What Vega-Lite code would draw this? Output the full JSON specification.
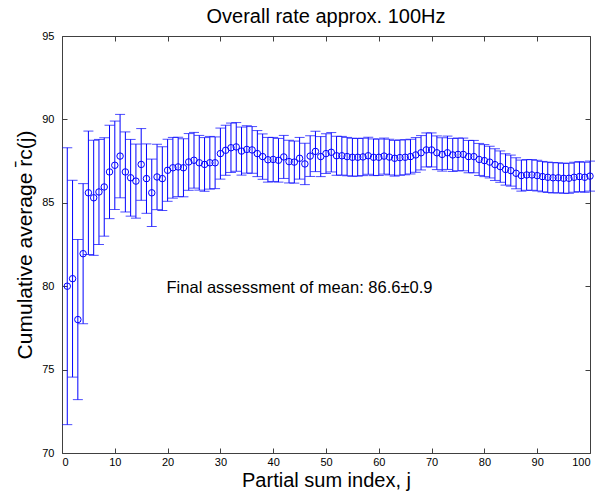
{
  "$schema": "https://vega.github.io/schema/vega-lite/v6.json",
  "width": 528,
  "height": 417,
  "autosize": {"type": "none"},
  "padding": {"left": 62, "top": 36, "right": 21, "bottom": 42},
  "background": "white",
  "config": {
    "font": "Liberation Sans",
    "view": {"stroke": "#404040", "strokeWidth": 1},
    "axis": {"grid": false, "domain": false, "labelColor": "#000000", "labelFontSize": 11, "tickColor": "#404040", "titleColor": "#000000", "titleFontWeight": "normal", "titleFontSize": 20}
  },
  "title": {"text": "Overall rate approx. 100Hz", "fontSize": 20, "fontWeight": "normal", "color": "#000000", "offset": 3},
  "data": {"values": [
    {"j":1,"m":80.0,"lo":71.7,"hi":88.3},
    {"j":2,"m":80.45,"lo":74.55,"hi":86.35},
    {"j":3,"m":78.0,"lo":73.2,"hi":82.8},
    {"j":4,"m":81.95,"lo":77.75,"hi":86.15},
    {"j":5,"m":85.6,"lo":81.9,"hi":89.3},
    {"j":6,"m":85.3,"lo":81.85,"hi":88.75},
    {"j":7,"m":85.65,"lo":82.5,"hi":88.8},
    {"j":8,"m":85.95,"lo":83.0,"hi":88.9},
    {"j":9,"m":86.85,"lo":84.05,"hi":89.65},
    {"j":10,"m":87.25,"lo":84.6,"hi":89.9},
    {"j":11,"m":87.8,"lo":85.3,"hi":90.3},
    {"j":12,"m":86.85,"lo":84.45,"hi":89.25},
    {"j":13,"m":86.5,"lo":84.2,"hi":88.8},
    {"j":14,"m":86.3,"lo":84.08,"hi":88.52},
    {"j":15,"m":87.3,"lo":85.15,"hi":89.45},
    {"j":16,"m":86.45,"lo":84.37,"hi":88.53},
    {"j":17,"m":85.6,"lo":83.58,"hi":87.62},
    {"j":18,"m":86.55,"lo":84.59,"hi":88.51},
    {"j":19,"m":86.45,"lo":84.54,"hi":88.36},
    {"j":20,"m":86.95,"lo":85.09,"hi":88.81},
    {"j":21,"m":87.1,"lo":85.28,"hi":88.92},
    {"j":22,"m":87.15,"lo":85.37,"hi":88.93},
    {"j":23,"m":87.1,"lo":85.36,"hi":88.84},
    {"j":24,"m":87.45,"lo":85.75,"hi":89.15},
    {"j":25,"m":87.55,"lo":85.88,"hi":89.22},
    {"j":26,"m":87.4,"lo":85.76,"hi":89.04},
    {"j":27,"m":87.3,"lo":85.69,"hi":88.91},
    {"j":28,"m":87.4,"lo":85.82,"hi":88.98},
    {"j":29,"m":87.4,"lo":85.85,"hi":88.95},
    {"j":30,"m":87.95,"lo":86.42,"hi":89.48},
    {"j":31,"m":88.15,"lo":86.65,"hi":89.65},
    {"j":32,"m":88.3,"lo":86.82,"hi":89.78},
    {"j":33,"m":88.35,"lo":86.89,"hi":89.81},
    {"j":34,"m":88.1,"lo":86.66,"hi":89.54},
    {"j":35,"m":88.2,"lo":86.78,"hi":89.62},
    {"j":36,"m":88.17,"lo":86.77,"hi":89.57},
    {"j":37,"m":87.95,"lo":86.57,"hi":89.33},
    {"j":38,"m":87.77,"lo":86.41,"hi":89.13},
    {"j":39,"m":87.58,"lo":86.24,"hi":88.92},
    {"j":40,"m":87.6,"lo":86.28,"hi":88.92},
    {"j":41,"m":87.55,"lo":86.24,"hi":88.86},
    {"j":42,"m":87.75,"lo":86.46,"hi":89.04},
    {"j":43,"m":87.47,"lo":86.19,"hi":88.75},
    {"j":44,"m":87.44,"lo":86.18,"hi":88.7},
    {"j":45,"m":87.67,"lo":86.42,"hi":88.92},
    {"j":46,"m":87.33,"lo":86.09,"hi":88.57},
    {"j":47,"m":87.8,"lo":86.58,"hi":89.02},
    {"j":48,"m":88.08,"lo":86.87,"hi":89.29},
    {"j":49,"m":87.77,"lo":86.57,"hi":88.97},
    {"j":50,"m":87.95,"lo":86.76,"hi":89.14},
    {"j":51,"m":88.03,"lo":86.85,"hi":89.21},
    {"j":52,"m":87.82,"lo":86.65,"hi":88.99},
    {"j":53,"m":87.82,"lo":86.66,"hi":88.98},
    {"j":54,"m":87.77,"lo":86.62,"hi":88.92},
    {"j":55,"m":87.73,"lo":86.59,"hi":88.87},
    {"j":56,"m":87.73,"lo":86.6,"hi":88.86},
    {"j":57,"m":87.75,"lo":86.63,"hi":88.87},
    {"j":58,"m":87.82,"lo":86.71,"hi":88.93},
    {"j":59,"m":87.73,"lo":86.63,"hi":88.83},
    {"j":60,"m":87.73,"lo":86.64,"hi":88.82},
    {"j":61,"m":87.8,"lo":86.72,"hi":88.88},
    {"j":62,"m":87.74,"lo":86.67,"hi":88.81},
    {"j":63,"m":87.67,"lo":86.6,"hi":88.74},
    {"j":64,"m":87.71,"lo":86.65,"hi":88.77},
    {"j":65,"m":87.73,"lo":86.68,"hi":88.78},
    {"j":66,"m":87.77,"lo":86.73,"hi":88.81},
    {"j":67,"m":87.87,"lo":86.83,"hi":88.91},
    {"j":68,"m":88.0,"lo":86.97,"hi":89.03},
    {"j":69,"m":88.17,"lo":87.15,"hi":89.19},
    {"j":70,"m":88.17,"lo":87.15,"hi":89.19},
    {"j":71,"m":88.0,"lo":86.99,"hi":89.01},
    {"j":72,"m":87.9,"lo":86.9,"hi":88.9},
    {"j":73,"m":88.0,"lo":87.0,"hi":89.0},
    {"j":74,"m":87.87,"lo":86.88,"hi":88.86},
    {"j":75,"m":87.9,"lo":86.92,"hi":88.88},
    {"j":76,"m":87.9,"lo":86.92,"hi":88.88},
    {"j":77,"m":87.77,"lo":86.8,"hi":88.74},
    {"j":78,"m":87.77,"lo":86.8,"hi":88.74},
    {"j":79,"m":87.6,"lo":86.64,"hi":88.56},
    {"j":80,"m":87.53,"lo":86.57,"hi":88.49},
    {"j":81,"m":87.44,"lo":86.49,"hi":88.39},
    {"j":82,"m":87.29,"lo":86.34,"hi":88.24},
    {"j":83,"m":87.17,"lo":86.23,"hi":88.11},
    {"j":84,"m":87.0,"lo":86.06,"hi":87.94},
    {"j":85,"m":86.93,"lo":86.0,"hi":87.86},
    {"j":86,"m":86.77,"lo":85.84,"hi":87.7},
    {"j":87,"m":86.63,"lo":85.7,"hi":87.56},
    {"j":88,"m":86.67,"lo":85.75,"hi":87.59},
    {"j":89,"m":86.67,"lo":85.75,"hi":87.59},
    {"j":90,"m":86.63,"lo":85.71,"hi":87.55},
    {"j":91,"m":86.57,"lo":85.66,"hi":87.48},
    {"j":92,"m":86.53,"lo":85.62,"hi":87.44},
    {"j":93,"m":86.5,"lo":85.59,"hi":87.41},
    {"j":94,"m":86.5,"lo":85.6,"hi":87.4},
    {"j":95,"m":86.47,"lo":85.57,"hi":87.37},
    {"j":96,"m":86.47,"lo":85.57,"hi":87.37},
    {"j":97,"m":86.53,"lo":85.63,"hi":87.43},
    {"j":98,"m":86.57,"lo":85.67,"hi":87.47},
    {"j":99,"m":86.53,"lo":85.63,"hi":87.43},
    {"j":100,"m":86.6,"lo":85.7,"hi":87.5}
  ]},
  "layer": [
    {
      "mark": {"type": "rule", "color": "#0000ff", "strokeWidth": 1},
      "encoding": {
        "x": {"field": "j", "type": "quantitative", "scale": {"domain": [0, 100], "nice": false},
              "axis": {"orient": "bottom", "values": [0,10,20,30,40,50,60,70,80,90,100], "tickSize": -5, "labelPadding": 8, "title": "Partial sum index, j", "titlePadding": 3}},
        "y": {"field": "lo", "type": "quantitative", "scale": {"domain": [70, 95], "nice": false, "zero": false},
              "axis": {"orient": "left", "values": [70,75,80,85,90,95], "tickSize": -5, "labelPadding": 13, "title": "Cumulative average r̄c(j)", "titleFontSize": 21, "titlePadding": 6}},
        "y2": {"field": "hi"}
      }
    },
    {
      "mark": {"type": "tick", "orient": "horizontal", "size": 10, "thickness": 1, "color": "#0000ff"},
      "encoding": {
        "x": {"field": "j", "type": "quantitative", "scale": {"domain": [0, 100], "nice": false},
              "axis": {"orient": "top", "values": [0,10,20,30,40,50,60,70,80,90,100], "tickSize": -5, "labels": false, "title": null}},
        "y": {"field": "lo", "type": "quantitative", "scale": {"domain": [70, 95], "nice": false, "zero": false},
              "axis": {"orient": "right", "values": [70,75,80,85,90,95], "tickSize": -5, "labels": false, "title": null}}
      }
    },
    {
      "mark": {"type": "tick", "orient": "horizontal", "size": 10, "thickness": 1, "color": "#0000ff"},
      "encoding": {
        "x": {"field": "j", "type": "quantitative", "axis": null},
        "y": {"field": "hi", "type": "quantitative", "axis": null}
      }
    },
    {
      "mark": {"type": "point", "shape": "circle", "filled": false, "size": 42, "strokeWidth": 1, "color": "#0000ff", "opacity": 1},
      "encoding": {
        "x": {"field": "j", "type": "quantitative", "axis": null},
        "y": {"field": "m", "type": "quantitative", "axis": null}
      }
    },
    {
      "data": {"values": [{"label": "Final assessment of mean: 86.6±0.9"}]},
      "mark": {"type": "text", "align": "left", "baseline": "middle", "fontSize": 16.5, "color": "#000000"},
      "encoding": {
        "x": {"datum": 19.8, "type": "quantitative", "axis": null},
        "y": {"datum": 79.9, "type": "quantitative", "axis": null},
        "text": {"field": "label"}
      }
    }
  ],
  "resolve": {"axis": {"x": "independent", "y": "independent"}}
}
